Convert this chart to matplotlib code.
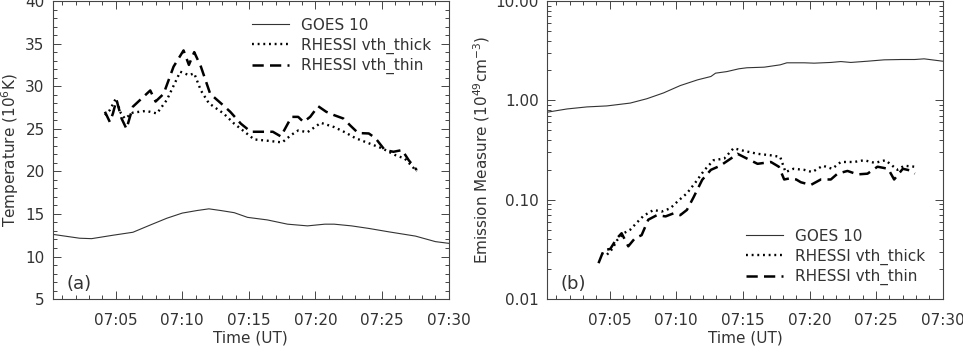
import numpy as np
import matplotlib
matplotlib.use("Agg")
from matplotlib import pyplot as plt
import matplotlib.dates as mdates
from matplotlib.ticker import MultipleLocator, LogLocator, NullFormatter, FixedLocator, FuncFormatter

# time in minutes after 07:00 UT
goes_t_min = [0.3, 2.3, 3.2, 4.8, 6.3, 7.6, 8.85, 10.0, 11.1, 12.0, 12.9, 13.9, 14.9,
              16.4, 17.9, 19.4, 20.7, 21.4, 22.7, 24.0, 25.5, 27.5, 29.0, 30.0]
goes_temp = [12.6, 12.15, 12.1, 12.5, 12.85, 13.7, 14.5, 15.1, 15.4, 15.6, 15.4, 15.15, 14.6,
             14.3, 13.8, 13.6, 13.8, 13.8, 13.6, 13.3, 12.9, 12.4, 11.75, 11.55]

thick_t_min = [4.2, 4.57, 5.02, 5.4, 5.7, 6.3, 7.3, 8.1, 8.85, 9.86, 10.5, 10.9, 11.4, 12.0,
               13.1, 13.9, 14.8, 15.4, 16.4, 17.5, 18.2, 18.7, 19.4, 20.4, 21.4, 22.2, 23.0,
               24.0, 25.0, 26.0, 26.7, 27.6]
thick_temp = [26.6, 27.2, 28.55, 26.8, 26.2, 26.9, 27.1, 26.8, 28.4, 31.7, 31.3, 31.5, 29.5, 28.0,
              26.8, 25.6, 24.5, 23.75, 23.6, 23.4, 24.3, 24.8, 24.6, 25.7, 25.2, 24.6, 23.9,
              23.3, 22.7, 21.9, 21.5, 20.0]

thin_t_min = [4.2, 4.57, 4.8, 5.07, 5.45, 5.83, 6.3, 6.96, 7.6, 8.0, 8.6, 9.36, 10.1, 10.5, 10.9,
              11.4, 12.1, 12.9, 13.6, 14.4, 15.15, 16.2, 16.8, 17.4, 18.2, 18.7, 19.1, 19.6,
              20.2, 20.8, 21.4, 22.1, 22.6, 23.2, 24.0, 24.5, 25.2, 25.85, 26.5, 27.0, 27.6]
thin_temp = [27.0, 25.8, 26.8, 28.4, 26.2, 25.0, 27.6, 28.55, 29.5, 28.2, 29.1, 32.3, 34.2, 32.5, 34.0,
             32.3, 29.1, 28.0, 27.0, 25.6, 24.65, 24.65, 24.65, 24.1, 26.4, 26.4, 25.8, 26.4,
             27.65, 27.0, 26.6, 26.2, 25.4, 24.5, 24.45, 23.9, 22.5, 22.3, 22.5, 21.3, 20.15]

goes_em_t_min = [0.3, 1.8, 3.3, 4.8, 6.55, 7.8, 9.06, 10.3, 11.6, 12.6, 12.95, 13.8, 14.7, 15.3,
                 16.6, 17.8, 18.3, 19.6, 20.35, 21.6, 22.35, 23.1, 24.35, 25.6, 26.9, 27.9, 28.6, 30.0]
goes_em = [0.76, 0.82, 0.86, 0.88, 0.94, 1.04, 1.19, 1.41, 1.61, 1.74, 1.88, 1.95, 2.08, 2.13,
           2.16, 2.28, 2.39, 2.39, 2.37, 2.41, 2.46, 2.41, 2.48, 2.56, 2.58, 2.58, 2.62, 2.48]

thick_em_t_min = [4.4, 4.8, 5.2, 5.55, 6.05, 6.55, 7.05, 7.55, 8.3, 8.9, 9.55, 10.2, 10.8, 11.45,
                  12.1, 12.8, 13.6, 14.3, 15.1, 16.1, 17.1, 17.8, 18.2, 18.8, 19.6, 20.2, 21.0,
                  21.7, 22.35, 23.35, 24.1, 24.9, 25.7, 26.6, 27.1, 27.9]
thick_em = [0.029, 0.028, 0.032, 0.039, 0.046, 0.050, 0.059, 0.069, 0.079, 0.076, 0.082, 0.099, 0.116, 0.15,
            0.198, 0.25, 0.26, 0.33, 0.31, 0.29, 0.28, 0.27, 0.19, 0.205, 0.2, 0.19, 0.22,
            0.205, 0.24, 0.24, 0.25, 0.235, 0.25, 0.2, 0.22, 0.215]

thin_em_t_min = [4.17, 4.55, 5.05, 5.55, 5.9, 6.4, 6.9, 7.4, 7.9, 8.55, 9.2, 9.8, 10.3, 10.8, 11.3,
                 11.95, 12.6, 13.3, 14.1, 14.6, 15.3, 16.1, 17.1, 17.7, 18.1, 18.5, 19.0, 19.35,
                 20.1, 20.85, 21.6, 22.1, 22.85, 23.6, 24.35, 25.1, 25.9, 26.35, 27.0, 27.5, 27.9]
thin_em = [0.023, 0.031, 0.032, 0.041, 0.046, 0.034, 0.041, 0.044, 0.063, 0.07, 0.068, 0.073, 0.07, 0.079, 0.106,
           0.159, 0.2, 0.22, 0.26, 0.29, 0.26, 0.23, 0.24, 0.215, 0.16, 0.164, 0.16, 0.15,
           0.141, 0.16, 0.16, 0.183, 0.195, 0.18, 0.183, 0.215, 0.205, 0.16, 0.205, 0.198, 0.183]

labels = ["GOES 10", "RHESSI vth_thick", "RHESSI vth_thin"]

t0 = np.datetime64("2000-01-01T07:00:00")


def to_time(minutes):
    return t0 + (np.array(minutes) * 60).astype("timedelta64[s]")


plt.rcParams["font.family"] = ["DejaVu Sans"]
plt.rcParams["font.size"] = 11
txt = "#333333"
plt.rcParams["text.color"] = txt
plt.rcParams["axes.labelcolor"] = txt
plt.rcParams["xtick.color"] = "#444444"
plt.rcParams["ytick.color"] = "#444444"
plt.rcParams["xtick.labelcolor"] = txt
plt.rcParams["ytick.labelcolor"] = txt

solid = dict(color="#333333", lw=0.8, ls="-")
dotted = dict(color="black", lw=1.7, ls=(0, (0.8, 1.6)))
dashed = dict(color="black", lw=1.8, ls=(0, (4.5, 2.5)))

fig = plt.figure(figsize=(9.63, 3.47), dpi=100)
ax1 = fig.add_axes([0.055, 0.138, 0.411, 0.859])
ax2 = fig.add_axes([0.568, 0.138, 0.411, 0.859])


def style_axis(ax):
    ax.xaxis.set_major_locator(mdates.MinuteLocator(byminute=range(0, 60, 5)))
    ax.xaxis.set_minor_locator(mdates.MinuteLocator())
    ax.xaxis.set_major_formatter(mdates.DateFormatter("%H:%M"))
    ax.set_xlim(to_time([0.3])[0], to_time([30.0])[0])
    ax.tick_params(which="both", direction="in", top=True, right=True, width=0.7)
    ax.tick_params(which="major", length=6)
    ax.tick_params(which="minor", length=3)
    ax.tick_params(axis="y", which="major", pad=6)
    ax.tick_params(axis="x", which="major", pad=10)
    for s in ax.spines.values():
        s.set_linewidth(0.8)
        s.set_color("#444444")
    ax.set_xlabel("Time (UT)", labelpad=2)


# (a) temperature
ax1.plot(to_time(goes_t_min), goes_temp, label=labels[0], **solid)
ax1.plot(to_time(thick_t_min), thick_temp, label=labels[1], **dotted)
ax1.plot(to_time(thin_t_min), thin_temp, label=labels[2], **dashed)
style_axis(ax1)
ax1.set_ylim(5, 40)
ax1.yaxis.set_major_locator(FixedLocator([5, 10, 15, 20, 25, 30, 35, 40]))
ax1.yaxis.set_minor_locator(MultipleLocator(1))
ax1.set_ylabel("Temperature (10$^6$K)", labelpad=3)
ax1.text(0.035, 0.035, "(a)", transform=ax1.transAxes, fontsize=13)
ax1.legend(loc="upper right", frameon=False, handlelength=2.4, handletextpad=0.8,
           labelspacing=0.3, bbox_to_anchor=(0.99, 0.99), fontsize=11)

# (b) emission measure
ax2.plot(to_time(goes_em_t_min), goes_em, label=labels[0], **solid)
ax2.plot(to_time(thick_em_t_min), thick_em, label=labels[1], **dotted)
ax2.plot(to_time(thin_em_t_min), thin_em, label=labels[2], **dashed)
style_axis(ax2)
ax2.set_yscale("log")
ax2.set_ylim(0.01, 10)
ax2.yaxis.set_major_locator(LogLocator(base=10, numticks=10))
ax2.yaxis.set_minor_locator(LogLocator(base=10, subs=np.arange(2, 10), numticks=10))
ax2.yaxis.set_minor_formatter(NullFormatter())
ax2.yaxis.set_major_formatter(FuncFormatter(lambda v, p: f"{v:.2f}"))
ax2.set_ylabel("Emission Measure (10$^{49}$cm$^{-3}$)", labelpad=2)
ax2.text(0.035, 0.035, "(b)", transform=ax2.transAxes, fontsize=13)
ax2.legend(loc="lower right", frameon=False, handlelength=2.4, handletextpad=0.8,
           labelspacing=0.3, bbox_to_anchor=(0.99, 0.0), fontsize=11)

fig.savefig("out.png", dpi=100)
